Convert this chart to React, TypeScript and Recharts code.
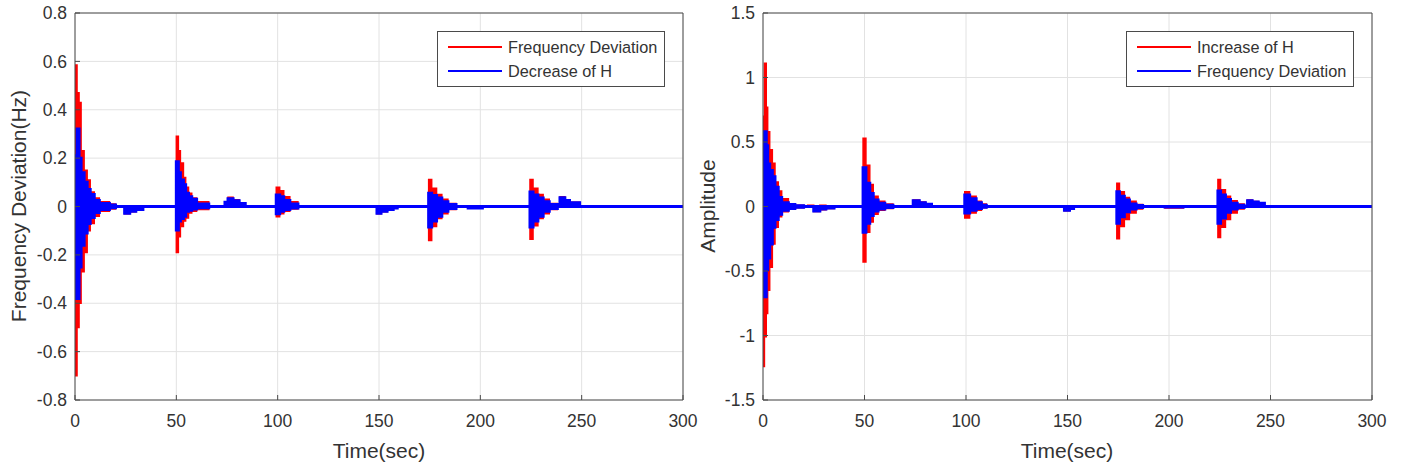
import React from 'react';
import { ComposedChart, Area, XAxis, YAxis, CartesianGrid } from 'recharts';

// ---------- Left panel (envelopes of the oscillating signals) ----------
const timeL = [
  0, 1, 2, 3, 4.5, 6, 7.5, 9.5, 12, 17, 20,
  24.5, 27, 30, 33.5,
  50, 51, 52, 53.5, 54.6, 56, 57.6, 60, 66,
  74, 75.5, 78, 81, 84,
  99.3, 101, 103, 106, 110,
  149, 151, 154, 157, 159,
  174.5, 176, 178.4, 181, 184, 188,
  194, 201,
  224.5, 226, 228.4, 231, 234, 238,
  239.3, 241.7, 244, 249, 300,
];
const redHiL = [
  0.585, 0.47, 0.43, 0.23, 0.15, 0.11, 0.06, 0.035, 0.02, 0.01, 0,
  0, 0, 0, 0,
  0.29, 0.23, 0.18, 0.12, 0.08, 0.055, 0.035, 0.02, 0,
  0.02, 0.038, 0.028, 0.016, 0,
  0.08, 0.065, 0.04, 0.02, 0,
  0, 0, 0, 0, 0,
  0.112, 0.075, 0.05, 0.03, 0.012, 0,
  0, 0,
  0.112, 0.075, 0.05, 0.03, 0.012, 0,
  0.04, 0.027, 0.018, 0, 0,
];
const redLoL = [
  -0.7, -0.5, -0.4, -0.27, -0.19, -0.1, -0.07, -0.04, -0.02, -0.01, 0,
  -0.03, -0.022, -0.014, 0,
  -0.19, -0.125, -0.083, -0.06, -0.048, -0.027, -0.02, -0.012, 0,
  0, 0, 0, 0, 0,
  -0.042, -0.03, -0.02, -0.01, 0,
  -0.03, -0.022, -0.014, -0.007, 0,
  -0.141, -0.083, -0.05, -0.03, -0.012, 0,
  -0.006, 0,
  -0.135, -0.08, -0.05, -0.03, -0.012, 0,
  0, 0, 0, 0, 0,
];
const blueHiL = [
  0.21, 0.32, 0.2, 0.14, 0.1, 0.07, 0.05, 0.025, 0.012, 0.006, 0,
  0, 0, 0, 0,
  0.185, 0.14, 0.11, 0.09, 0.055, 0.04, 0.03, 0.01, 0,
  0.018, 0.032, 0.024, 0.012, 0,
  0.048, 0.04, 0.025, 0.01, 0,
  0, 0, 0, 0, 0,
  0.055, 0.045, 0.035, 0.02, 0.008, 0,
  0, 0,
  0.06, 0.048, 0.035, 0.02, 0.008, 0,
  0.036, 0.025, 0.016, 0, 0,
];
const blueLoL = [
  -0.38, -0.38, -0.25, -0.16, -0.11, -0.07, -0.045, -0.025, -0.012, -0.005, 0,
  -0.028, -0.02, -0.012, 0,
  -0.097, -0.06, -0.05, -0.04, -0.02, -0.015, -0.01, -0.005, 0,
  0, 0, 0, 0, 0,
  -0.03, -0.02, -0.012, -0.006, 0,
  -0.028, -0.02, -0.012, -0.006, 0,
  -0.085, -0.06, -0.04, -0.02, -0.008, 0,
  -0.006, 0,
  -0.085, -0.06, -0.04, -0.02, -0.008, 0,
  0, 0, 0, 0, 0,
];

// ---------- Right panel ----------
const timeR = [
  0, 0.7, 1.6, 2.3, 3.3, 4.6, 5.9, 7.5, 9.2, 12.5, 15.7, 20,
  22, 25, 28, 31, 35,
  49.3, 50.7, 52.6, 54.3, 56.7, 60, 64,
  74, 77, 80, 83,
  99.4, 101.8, 105, 107.6, 110,
  148.5, 151, 153,
  174.3, 175.6, 178, 180.5, 183.8, 187,
  198, 207,
  224.1, 225.4, 227.8, 230.3, 233.6, 237,
  238.7, 241, 244, 247, 300,
];
const redHiR = [
  0.7, 1.11, 0.77, 0.58, 0.44, 0.335, 0.19, 0.12, 0.06, 0.02, 0.01, 0,
  0.01, 0, 0.01, 0, 0,
  0.53, 0.32, 0.17, 0.08, 0.04, 0.02, 0,
  0.05, 0.035, 0.022, 0,
  0.115, 0.08, 0.04, 0.02, 0,
  0, 0, 0,
  0.18, 0.115, 0.07, 0.04, 0.015, 0,
  0, 0,
  0.21, 0.13, 0.08, 0.045, 0.02, 0,
  0.05, 0.038, 0.028, 0, 0,
];
const redLoR = [
  -1.24, -1.01, -0.83, -0.65, -0.47, -0.29, -0.16, -0.08, -0.04, -0.02, -0.01, 0,
  0, -0.038, -0.025, -0.015, 0,
  -0.43, -0.2, -0.12, -0.06, -0.03, -0.015, 0,
  0, 0, 0, 0,
  -0.09, -0.05, -0.03, -0.01, 0,
  -0.032, -0.016, 0,
  -0.25, -0.155, -0.1, -0.05, -0.02, 0,
  -0.012, 0,
  -0.24, -0.16, -0.1, -0.05, -0.02, 0,
  0, 0, 0, 0, 0,
];
const blueHiR = [
  0.58, 0.58, 0.47, 0.33, 0.28, 0.23, 0.15, 0.07, 0.03, 0.015, 0.005, 0,
  0, 0, 0, 0, 0,
  0.3, 0.18, 0.1, 0.05, 0.025, 0.01, 0,
  0.045, 0.03, 0.018, 0,
  0.09, 0.06, 0.03, 0.01, 0,
  0, 0, 0,
  0.115, 0.08, 0.05, 0.02, 0.008, 0,
  0, 0,
  0.12, 0.09, 0.055, 0.025, 0.01, 0,
  0.045, 0.035, 0.025, 0, 0,
];
const blueLoR = [
  -0.7, -0.7, -0.49, -0.4, -0.29, -0.16, -0.1, -0.06, -0.03, -0.015, -0.005, 0,
  0, -0.035, -0.02, -0.012, 0,
  -0.2, -0.13, -0.07, -0.035, -0.02, -0.008, 0,
  0, 0, 0, 0,
  -0.05, -0.03, -0.015, -0.005, 0,
  -0.03, -0.015, 0,
  -0.13, -0.08, -0.04, -0.02, -0.008, 0,
  -0.004, 0,
  -0.13, -0.09, -0.045, -0.02, -0.008, 0,
  0, 0, 0, 0, 0,
];

const xTicks = [0, 50, 100, 150, 200, 250, 300];
const yTicksL = [-0.8, -0.6, -0.4, -0.2, 0, 0.2, 0.4, 0.6, 0.8];
const yTicksR = [-1.5, -1, -0.5, 0, 0.5, 1, 1.5];
const yLabelsL = ['-0.8', '-0.6', '-0.4', '-0.2', '0', '0.2', '0.4', '0.6', '0.8'];
const yLabelsR = ['-1.5', '-1', '-0.5', '0', '0.5', '1', '1.5'];
const legendL = ['Frequency Deviation', 'Decrease of H'];
const legendR = ['Increase of H', 'Frequency Deviation'];

const RED = '#ff0000';
const BLUE = '#0000ff';
const AXIS = '#4a4a4a';
const TEXT = '#333333';
const GRID = '#e2e2e2';
const FONT = '"Liberation Sans", Arial, Helvetica, sans-serif';

function build(t: number[], rh: number[], rl: number[], bh: number[], bl: number[]) {
  return t.map((v, i) => ({ t: v, red: [rl[i], rh[i]], blue: [bl[i], bh[i]] }));
}

const dataL = build(timeL, redHiL, redLoL, blueHiL, blueLoL);
const dataR = build(timeR, redHiR, redLoR, blueHiR, blueLoR);

type PanelProps = {
  data: any[];
  left: number;
  width: number;
  plotLeft: number;
  plotRight: number;
  yDomain: [number, number];
  yTicks: number[];
  yLabels: string[];
};

const PLOT_TOP = 13;
const PLOT_BOTTOM = 400;
const H = 468;

function Panel({ data, left, width, plotLeft, plotRight, yDomain, yTicks, yLabels }: PanelProps) {
  const tickStyle = { fill: TEXT, fontSize: 17.5, fontFamily: FONT };
  const fmtY = (v: number) => {
    const i = yTicks.findIndex((x) => Math.abs(x - v) < 1e-9);
    return i >= 0 ? yLabels[i] : String(v);
  };
  // axes get a 1px size (0 would not be drawn); margins compensate
  const margin = {
    top: PLOT_TOP - 1,
    bottom: H - PLOT_BOTTOM - 1,
    left: plotLeft - left - 1,
    right: left + width - plotRight - 1,
  };
  return (
    <div style={{ position: 'absolute', left, top: 0 }}>
      <ComposedChart width={width} height={H} data={data} margin={margin}>
        <CartesianGrid xAxisId="b" yAxisId="l" stroke={GRID} strokeWidth={1} />
        <XAxis
          xAxisId="b"
          dataKey="t"
          type="number"
          domain={[0, 300]}
          ticks={xTicks}
          interval={0}
          height={1}
          tickSize={-5}
          tickMargin={20}
          stroke={AXIS}
          tick={tickStyle}
          tickLine={{ stroke: AXIS }}
        />
        <XAxis
          xAxisId="top"
          orientation="top"
          dataKey="t"
          type="number"
          domain={[0, 300]}
          ticks={xTicks}
          interval={0}
          height={1}
          tickSize={-5}
          tick={false}
          stroke={AXIS}
        />
        <YAxis
          yAxisId="l"
          type="number"
          domain={yDomain}
          ticks={yTicks}
          interval={0}
          width={1}
          tickSize={-5}
          tickMargin={13}
          stroke={AXIS}
          tick={tickStyle}
          tickFormatter={fmtY}
        />
        <YAxis
          yAxisId="r"
          orientation="right"
          type="number"
          domain={yDomain}
          ticks={yTicks}
          interval={0}
          width={1}
          tickSize={-5}
          tick={false}
          stroke={AXIS}
        />
        <Area
          xAxisId="b"
          yAxisId="l"
          dataKey="red"
          type="stepAfter"
          fill={RED}
          fillOpacity={1}
          stroke={RED}
          strokeWidth={1.5}
          isAnimationActive={false}
          dot={false}
          activeDot={false}
        />
        <Area
          xAxisId="b"
          yAxisId="l"
          dataKey="blue"
          type="stepAfter"
          fill={BLUE}
          fillOpacity={1}
          stroke={BLUE}
          strokeWidth={3}
          isAnimationActive={false}
          dot={false}
          activeDot={false}
        />
      </ComposedChart>
    </div>
  );
}

function LegendBox({ left, labels }: { left: number; labels: string[] }) {
  const colors = [RED, BLUE];
  return (
    <div
      style={{
        position: 'absolute',
        left,
        top: 31,
        width: 226,
        height: 54,
        border: `1px solid ${AXIS}`,
        background: '#fff',
        fontFamily: FONT,
        fontSize: 16.3,
        color: TEXT,
      }}
    >
      {labels.map((lab, i) => (
        <div key={i} style={{ position: 'absolute', left: 0, top: 4 + i * 23.5, height: 22, width: '100%' }}>
          <div style={{ position: 'absolute', left: 10, top: 10, width: 54, height: 2, background: colors[i] }} />
          <div style={{ position: 'absolute', left: 70, top: 0, lineHeight: '22px', whiteSpace: 'nowrap' }}>{lab}</div>
        </div>
      ))}
    </div>
  );
}

function AxisTitle({ x, y, text, rotate }: { x: number; y: number; text: string; rotate?: boolean }) {
  return (
    <div
      style={{
        position: 'absolute',
        left: x,
        top: y,
        transform: `translate(-50%, -50%)${rotate ? ' rotate(-90deg)' : ''}`,
        fontFamily: FONT,
        fontSize: 21,
        color: TEXT,
        whiteSpace: 'nowrap',
      }}
    >
      {text}
    </div>
  );
}

export default function App() {
  return (
    <div style={{ position: 'absolute', left: 0, top: 0, width: 1403, height: 468, background: '#fff', overflow: 'hidden' }}>
      <Panel
        data={dataL}
        left={0}
        width={700}
        plotLeft={75}
        plotRight={683}
        yDomain={[-0.8, 0.8]}
        yTicks={yTicksL}
        yLabels={yLabelsL}
      />
      <Panel
        data={dataR}
        left={700}
        width={703}
        plotLeft={763}
        plotRight={1372}
        yDomain={[-1.5, 1.5]}
        yTicks={yTicksR}
        yLabels={yLabelsR}
      />
      <LegendBox left={437} labels={legendL} />
      <LegendBox left={1126} labels={legendR} />
      <AxisTitle x={379} y={451} text="Time(sec)" />
      <AxisTitle x={1067} y={451} text="Time(sec)" />
      <AxisTitle x={19} y={206} text="Frequency Deviation(Hz)" rotate />
      <AxisTitle x={708} y={206} text="Amplitude" rotate />
    </div>
  );
}
